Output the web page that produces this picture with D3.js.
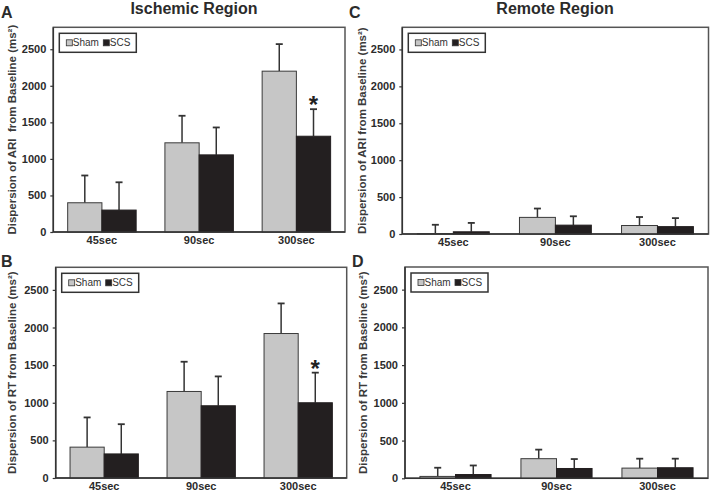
<!DOCTYPE html>
<html>
<head>
<meta charset="utf-8">
<script src="https://cdn.jsdelivr.net/npm/d3@7"></script>
<style>
  html, body { margin: 0; padding: 0; background: #fff; }
  svg { display: block; font-family: Arial, "Liberation Sans", sans-serif; }
</style>
</head>
<body>
<svg id="chart" width="711" height="499"></svg>
<script>
// ---------- data ----------
const categories = ["45sec", "90sec", "300sec"];
const seriesNames = ["Sham", "SCS"];
const yTicks = [0, 500, 1000, 1500, 2000, 2500];
const yMax = 2800;

// Panel A: Ischemic region, ARI
const ischemicAriSham = [400, 1220, 2200];
const ischemicAriShamErr = [373, 370, 370];
const ischemicAriScs = [300, 1055, 1310];
const ischemicAriScsErr = [380, 375, 370];

// Panel B: Ischemic region, RT
const ischemicRtSham = [410, 1150, 1920];
const ischemicRtShamErr = [395, 395, 400];
const ischemicRtScs = [320, 960, 1000];
const ischemicRtScsErr = [395, 390, 400];

// Panel C: Remote region, ARI
const remoteAriSham = [5, 225, 115];
const remoteAriShamErr = [120, 120, 115];
const remoteAriScs = [30, 120, 100];
const remoteAriScsErr = [120, 120, 115];

// Panel D: Remote region, RT
const remoteRtSham = [25, 260, 135];
const remoteRtShamErr = [115, 120, 125];
const remoteRtScs = [50, 130, 140];
const remoteRtScsErr = [120, 125, 120];

// significance markers (index of category where SCS is marked)
const ischemicStars = [false, false, true];
const remoteStars = [false, false, false];

const ariLabelIschemic = "Dispersion of ARI  from Baseline (ms²)";
const ariLabelRemote = "Dispersion of ARI from Baseline (ms²)";
const rtLabel = "Dispersion of RT from Baseline (ms²)";

// ---------- layout ----------
const colors = { Sham: "#c6c6c6", SCS: "#231f20" };
const panels = [
  { letter: "A", sham: ischemicAriSham, shamErr: ischemicAriShamErr, scs: ischemicAriScs, scsErr: ischemicAriScsErr,
    stars: ischemicStars, ylabel: ariLabelIschemic, box: { l: 53.3, r: 345, t: 27.3, b: 232 }, letterPos: [1, 18], labelX: 12 },
  { letter: "B", sham: ischemicRtSham, shamErr: ischemicRtShamErr, scs: ischemicRtScs, scsErr: ischemicRtScsErr,
    stars: ischemicStars, ylabel: rtLabel, box: { l: 55.7, r: 346.7, t: 267.3, b: 478 }, letterPos: [1, 267], labelX: 12 },
  { letter: "C", sham: remoteAriSham, shamErr: remoteAriShamErr, scs: remoteAriScs, scsErr: remoteAriScsErr,
    stars: remoteStars, ylabel: ariLabelRemote, box: { l: 402.3, r: 708.5, t: 27.3, b: 234 }, letterPos: [349, 18], labelX: 362 },
  { letter: "D", sham: remoteRtSham, shamErr: remoteRtShamErr, scs: remoteRtScs, scsErr: remoteRtScsErr,
    stars: remoteStars, ylabel: rtLabel, box: { l: 405, r: 708, t: 267, b: 478.3 }, letterPos: [352, 267], labelX: 363 }
];

const svg = d3.select("#chart");
const textColor = "#2b2b2b";

// column titles
svg.append("text").attr("x", 194).attr("y", 14).attr("text-anchor", "middle")
  .attr("font-size", 16).attr("font-weight", "bold").attr("fill", textColor).text("Ischemic Region");
svg.append("text").attr("x", 555).attr("y", 14).attr("text-anchor", "middle")
  .attr("font-size", 16).attr("font-weight", "bold").attr("fill", textColor).text("Remote Region");

panels.forEach(p => {
  const { l, r, t, b } = p.box;
  const g = svg.append("g");

  const x0 = d3.scaleBand().domain(categories).range([l, r]).paddingInner(0).paddingOuter(0);
  const x1 = d3.scaleBand().domain(seriesNames).range([0, x0.bandwidth()]).paddingInner(0).paddingOuter(0.42);
  const y = d3.scaleLinear().domain([0, yMax]).range([b, t]);

  // panel letter
  svg.append("text").attr("x", p.letterPos[0]).attr("y", p.letterPos[1])
    .attr("font-size", 16).attr("font-weight", "bold").attr("fill", textColor).text(p.letter);

  // frame
  g.append("rect").attr("x", l).attr("y", t).attr("width", r - l).attr("height", b - t)
    .attr("fill", "none").attr("stroke", "#555").attr("stroke-width", 1.5);

  // bars
  const rows = categories.map((c, i) => ({
    cat: c,
    vals: [
      { s: "Sham", v: p.sham[i], e: p.shamErr[i] },
      { s: "SCS", v: p.scs[i], e: p.scsErr[i] }
    ],
    star: p.stars[i]
  }));

  const grp = g.selectAll("g.cat").data(rows).join("g").attr("class", "cat")
    .attr("transform", d => `translate(${x0(d.cat)},0)`);

  // error bars (drawn first so the bar covers the lower end)
  grp.selectAll("g.err").data(d => d.vals).join("g").attr("class", "err").each(function (d) {
    const cx = x1(d.s) + x1.bandwidth() / 2;
    const e = d3.select(this);
    e.append("line").attr("x1", cx).attr("x2", cx).attr("y1", y(d.v)).attr("y2", y(d.v + d.e))
      .attr("stroke", "#333").attr("stroke-width", 1.5);
    e.append("line").attr("x1", cx - 3.5).attr("x2", cx + 3.5).attr("y1", y(d.v + d.e)).attr("y2", y(d.v + d.e))
      .attr("stroke", "#333").attr("stroke-width", 1.8);
  });

  grp.selectAll("rect.bar").data(d => d.vals).join("rect").attr("class", "bar")
    .attr("x", d => x1(d.s))
    .attr("width", x1.bandwidth())
    .attr("y", d => y(d.v))
    .attr("height", d => y(0) - y(d.v))
    .attr("fill", d => colors[d.s])
    .attr("stroke", d => d.s === "Sham" ? "#3a3a3a" : colors[d.s])
    .attr("stroke-width", 1);

  // stars
  grp.filter(d => d.star).append("text")
    .attr("x", d => x1("SCS") + x1.bandwidth() / 2)
    .attr("y", d => y(d.vals[1].v + d.vals[1].e) + 4)
    .attr("text-anchor", "middle").attr("font-size", 24).attr("font-weight", "bold")
    .attr("fill", "#222").text("*");

  // y axis
  const yAxis = d3.axisLeft(y).tickValues(yTicks).tickSize(3).tickPadding(4).tickFormat(d3.format("d"));
  const ya = g.append("g").attr("transform", `translate(${l},0)`).call(yAxis);
  ya.select(".domain").remove();
  ya.selectAll(".tick line").attr("stroke", "#333").attr("stroke-width", 1.2);
  ya.selectAll(".tick text").attr("font-size", 11).attr("font-weight", "bold").attr("fill", textColor)
    .attr("font-family", "Arial, 'Liberation Sans', sans-serif");

  // x axis labels
  const xAxis = d3.axisBottom(x0).tickSize(0).tickPadding(4);
  const xa = g.append("g").attr("transform", `translate(0,${b})`).call(xAxis);
  xa.select(".domain").remove();
  xa.selectAll(".tick text").attr("font-size", 11).attr("font-weight", "bold").attr("fill", textColor)
    .attr("font-family", "Arial, 'Liberation Sans', sans-serif");

  // axis lines
  g.append("line").attr("x1", l).attr("x2", l).attr("y1", t).attr("y2", b).attr("stroke", "#333").attr("stroke-width", 1.5);
  g.append("line").attr("x1", l).attr("x2", r).attr("y1", b).attr("y2", b).attr("stroke", "#333").attr("stroke-width", 1.5);

  // y label
  svg.append("text")
    .attr("transform", `translate(${p.labelX},${(t + b) / 2}) rotate(-90)`)
    .attr("text-anchor", "middle").attr("dominant-baseline", "central")
    .attr("font-size", 11.5).attr("font-weight", "bold").attr("fill", "#3a3a3a")
    .style("white-space", "pre").text(p.ylabel);

  // legend
  const lg = g.append("g").attr("transform", `translate(${l + 6},${t + 6})`);
  lg.append("rect").attr("width", 77).attr("height", 19).attr("fill", "#fff")
    .attr("stroke", "#333").attr("stroke-width", 1.5);
  const items = lg.selectAll("g.item").data(seriesNames).join("g").attr("class", "item")
    .attr("transform", (d, i) => `translate(${i === 0 ? 7 : 44},9.5)`);
  items.append("rect").attr("x", 0).attr("y", -3).attr("width", 6).attr("height", 6)
    .attr("fill", d => colors[d]).attr("stroke", "#333").attr("stroke-width", 0.8);
  items.append("text").attr("x", 6.5).attr("y", 0).attr("dominant-baseline", "central")
    .attr("font-size", 10).attr("fill", "#333").text(d => d);
});
</script>
</body>
</html>
